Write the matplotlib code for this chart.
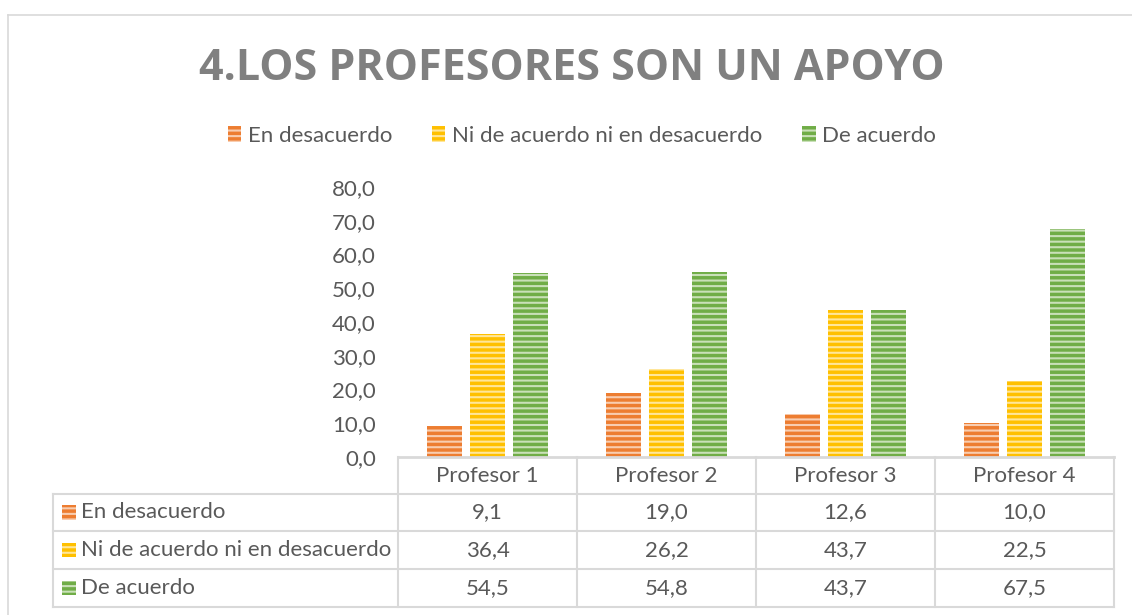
import numpy as np
import matplotlib.pyplot as plt
import matplotlib.patches as patches
from matplotlib.lines import Line2D

# Datos
profesores = ['Profesor 1', 'Profesor 2', 'Profesor 3', 'Profesor 4']
series = ['En desacuerdo', 'Ni de acuerdo ni en desacuerdo', 'De acuerdo']
en_desacuerdo = [9.1, 19.0, 12.6, 10.0]
ni_ni = [36.4, 26.2, 43.7, 22.5]
de_acuerdo = [54.5, 54.8, 43.7, 67.5]
valores = [en_desacuerdo, ni_ni, de_acuerdo]
yticks = [0, 10, 20, 30, 40, 50, 60, 70, 80]

colores = ['#ED7D31', '#FFC000', '#70AD47']
rayas = ['#F8CDB0', '#FFE699', '#C9E0B8']
texto = '#595959'
borde = '#D9D9D9'

plt.rcParams['font.family'] = ['Lato', 'DejaVu Sans']
plt.rcParams['hatch.linewidth'] = 1.5

W, H = 1132, 615
fig = plt.figure(figsize=(W / 100, H / 100), dpi=100)


def fx(px):
    return px / W


def fy(py):
    return 1 - py / H


# Marco exterior
fig.add_artist(Line2D([fx(8), fx(8)], [fy(15), fy(615)], color=borde, lw=1.2))
fig.add_artist(Line2D([fx(8), fx(1132)], [fy(15), fy(15)], color=borde, lw=1.2))

# Titulo
fig.text(fx(572), fy(69), '4.LOS PROFESORES SON UN APOYO', ha='center', va='center',
         fontsize=31, fontweight='bold', color='#808080', family=['Open Sans', 'DejaVu Sans'])

# Ejes
x0, x1, ytop, ybot = 398, 1114, 187, 457
ax = fig.add_axes([fx(x0), fy(ybot), fx(x1 - x0), fy(ytop) - fy(ybot)])
x = np.arange(len(profesores))
ancho = 0.2
desp = 0.24
for i, (serie, vals) in enumerate(zip(series, valores)):
    ax.bar(x + (i - 1) * desp, vals, width=ancho, color=colores[i], edgecolor=rayas[i],
           linewidth=0, hatch='---', label=serie)

ax.set_xlim(-0.5, len(profesores) - 0.5)
ax.set_ylim(0, 80)
ax.set_yticks(yticks)
ax.set_yticklabels([f'{v:.1f}'.replace('.', ',') for v in yticks], fontsize=16, color=texto)
ax.set_xticks([])
ax.tick_params(axis='y', length=0, pad=16)
for s in ['top', 'right', 'left']:
    ax.spines[s].set_visible(False)
ax.spines['bottom'].set_color(borde)
ax.spines['bottom'].set_linewidth(2)

# Leyenda
handles = [patches.Patch(facecolor=colores[i], edgecolor=rayas[i], linewidth=0, hatch='---')
           for i in range(3)]
fig.legend(handles, series, loc='center', bbox_to_anchor=(fx(582), fy(136)), ncol=3,
           frameon=False, fontsize=16, labelcolor=texto, handlelength=0.6, handleheight=0.75,
           handletextpad=0.3, columnspacing=1.8)

# Tabla de datos
cols = [398, 577, 756, 935, 1114]
filas = [457, 494, 531, 569, 607]
lab_x = 53
for c in cols:
    fig.add_artist(Line2D([fx(c), fx(c)], [fy(457), fy(607)], color=borde, lw=1.5))
fig.add_artist(Line2D([fx(lab_x), fx(lab_x)], [fy(494), fy(607)], color=borde, lw=1.5))
for r in filas[1:]:
    fig.add_artist(Line2D([fx(lab_x), fx(1114)], [fy(r), fy(r)], color=borde, lw=1.5))

for j, p in enumerate(profesores):
    fig.text(fx((cols[j] + cols[j + 1]) / 2), fy((filas[0] + filas[1]) / 2), p,
             ha='center', va='center', fontsize=16, color=texto)

for i, (serie, vals) in enumerate(zip(series, valores)):
    yc = (filas[i + 1] + filas[i + 2]) / 2
    fig.add_artist(patches.Rectangle((fx(62), fy(yc + 7)), fx(14), fy(yc - 7) - fy(yc + 7),
                                     facecolor=colores[i], edgecolor=rayas[i], linewidth=0,
                                     hatch='---', transform=fig.transFigure))
    fig.text(fx(81), fy(yc), serie, ha='left', va='center', fontsize=16, color=texto)
    for j, v in enumerate(vals):
        fig.text(fx((cols[j] + cols[j + 1]) / 2), fy(yc), f'{v:.1f}'.replace('.', ','),
                 ha='center', va='center', fontsize=16, color=texto)

fig.savefig('out.png', dpi=100, facecolor='white')
